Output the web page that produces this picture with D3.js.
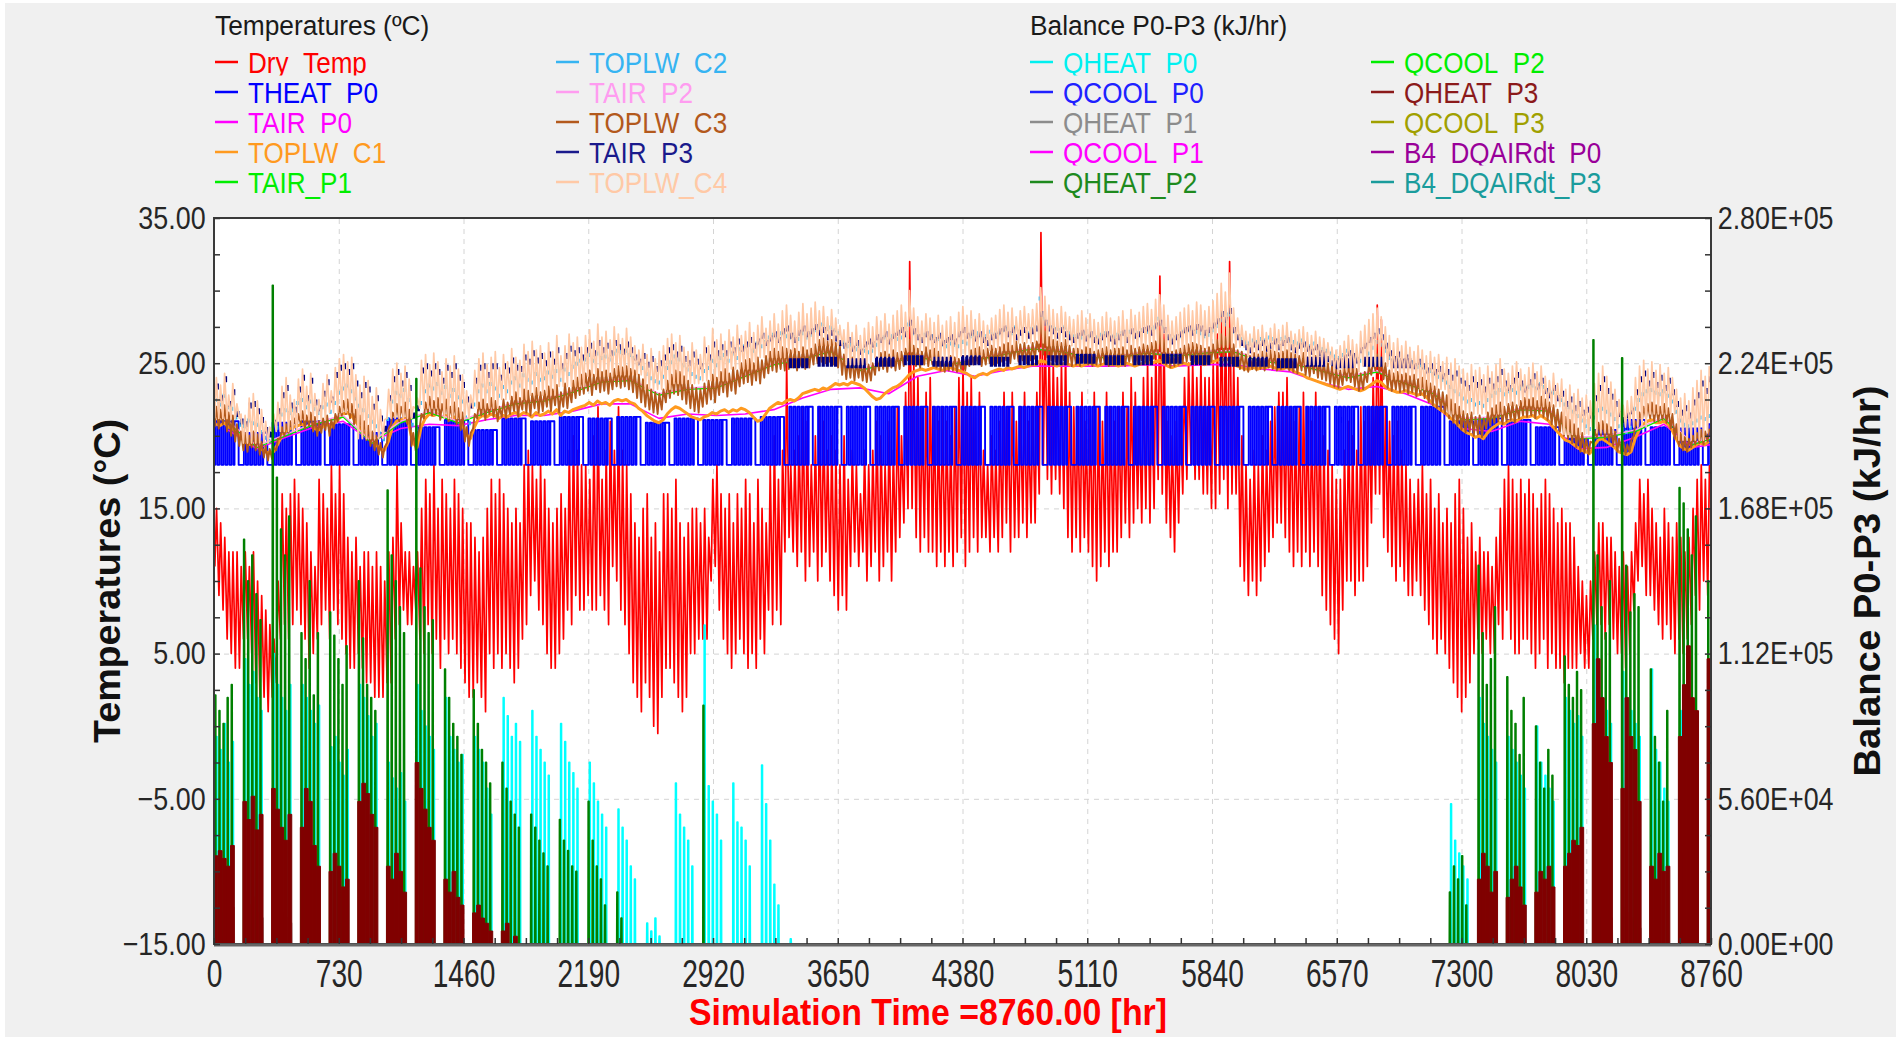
<!DOCTYPE html>
<html>
<head>
<meta charset="utf-8">
<script src="https://cdn.jsdelivr.net/npm/d3@7"></script>
<style>
html, body { margin: 0; padding: 0; background: #fff; }
svg { display: block; font-family: "Liberation Sans", Arial, sans-serif; }
</style>
</head>
<body>
<svg id="chart" width="1903" height="1037"></svg>
<script>
// ---- data (one value per day unless noted) ----

// Dry_Temp daily max / min (deg C)
const DRY_MAX = [15,14,13,12,12,12,11,12,11,12,
10,9,8,7,6,10,16,15,16,17,
16,15,14,12,11,17,16,15,18,16,
18,16,13,12,13,11,12,12,11,12,
11,10,12,13,18,14,12,12,11,12,
15,17,16,18,15,17,16,15,17,16,
15,14,14,13,12,13,15,17,16,17,
16,15,14,15,14,18,19,18,17,18,
17,15,14,15,16,15,19,20,19,18,
18,17,20,22,17,19,21,19,22,19,
18,16,14,13,15,16,13,14,12,16,
16,15,17,14,13,14,15,15,14,15,
13,17,18,16,15,16,14,16,15,17,
16,14,17,15,14,18,20,17,19,25,
18,19,20,22,21,18,20,22,21,19,
20,19,18,20,17,19,18,16,19,18,
19,21,20,18,21,19,22,20,23,32,
25,24,22,23,24,22,21,22,21,20,
22,24,25,23,24,22,23,19,18,20,
19,21,23,22,23,21,22,23,21,22,
23,34,28,26,25,24,25,26,23,22,
22,23,21,22,23,22,21,23,22,21,
22,23,22,24,23,22,24,25,24,26,
31,27,21,20,21,22,24,25,25,24,
25,24,24,25,27,29,28,32,25,24,
20,18,17,19,18,20,19,21,22,23,
23,24,22,21,22,23,22,21,23,22,
20,19,18,17,17,19,21,20,19,22,
21,22,24,29,28,22,21,20,21,19,
18,17,16,17,18,16,17,15,16,14,
15,14,16,17,15,13,14,12,13,12,
12,11,13,15,17,18,17,16,17,16,
17,16,15,16,17,16,15,14,15,14,
14,13,11,10,9,10,12,14,14,13,
13,12,11,12,11,12,14,17,16,17,
15,14,13,15,14,13,14,13,12,13,
15,17,18,17,18];
const DRY_MIN = [11,9,8,6,5,4,4,6,6,5,
3,2,2,1,2,3,6,7,6,7,
8,7,6,4,5,6,7,8,6,8,
7,6,5,4,4,5,4,3,3,2,
2,2,3,3,6,7,8,7,7,8,
6,5,7,5,6,4,6,5,6,5,
4,3,2,2,3,2,1,5,4,5,
4,5,4,3,4,6,7,9,10,8,
7,5,4,4,5,6,8,7,9,8,
8,9,8,8,9,8,7,11,10,8,
7,5,3,2,1,3,2,0,-0.5,2,
4,4,3,2,1,2,5,5,6,6,
6,10,11,8,6,5,4,5,6,5,
4,5,4,6,5,8,7,8,7,12,
13,12,11,12,10,11,12,10,11,12,
10,9,8,9,8,11,12,11,12,10,
11,12,10,11,12,10,12,13,14,15,
15,13,12,13,12,12,11,12,11,12,
11,12,13,11,12,13,12,13,13,12,
13,12,13,14,12,13,13,14,13,14,
14,16,18,17,16,17,16,15,13,12,
13,12,13,12,11,10,11,12,11,12,
12,13,14,13,14,15,14,15,14,15,
17,16,14,13,12,14,16,17,18,17,
17,16,16,15,15,16,17,15,16,16,
11,10,9,10,9,10,11,12,13,14,
14,13,12,11,12,11,12,11,12,11,
9,8,7,6,5,8,10,10,9,10,
10,11,14,16,16,13,12,11,10,11,
10,9,9,10,9,8,7,6,5,6,
5,4,3,2,1,2,3,5,6,5,
6,5,5,7,6,8,6,5,5,6,
6,5,4,5,6,4,5,4,4,3,
4,4,4,5,4,4,6,7,7,6,
7,6,5,5,4,5,8,10,11,9,
9,8,7,6,7,6,5,6,5,6,
7,9,8,10,9];

// TOPLW_C3 daily max / min
const C3_HI = [22.0,21.8,22.1,21.6,21.4,20.8,20.3,20.2,20.0,20.3,
20.1,19.6,19.3,19.1,19.2,19.8,20.6,20.8,21.0,21.2,
21.5,21.7,21.4,21.6,21.3,21.0,21.2,21.4,21.1,21.5,
22.0,22.4,22.5,22.2,21.8,21.4,21.0,20.7,20.3,20.0,
19.5,19.2,20.5,21.6,22.2,22.0,22.3,21.8,20.2,19.8,
21.5,22.3,22.7,22.4,22.6,22.2,22.5,22.0,22.3,21.9,
21.6,20.6,20.2,21.5,22.3,22.5,22.2,22.6,22.4,22.0,
22.5,22.3,22.7,23.0,22.6,23.2,23.1,22.9,23.3,23.0,
23.1,23.4,23.2,23.5,23.0,23.6,23.3,23.8,24.0,24.2,
24.3,24.5,24.2,24.6,24.4,24.5,24.3,24.6,24.8,24.7,
24.8,24.6,24.5,24.2,23.9,23.5,23.2,23.0,22.9,23.2,
23.8,24.2,24.5,24.4,24.1,23.8,23.5,23.3,23.2,23.6,
23.8,24.2,24.0,24.4,24.6,24.3,24.7,24.5,25.0,25.2,
25.3,25.0,25.4,25.2,25.5,25.8,26.0,25.8,26.1,26.0,
25.9,26.0,25.8,26.1,25.9,26.0,26.3,26.6,26.7,26.5,
26.6,26.4,26.2,25.6,25.3,25.4,25.1,25.3,25.0,24.9,
25.0,25.4,25.7,25.8,25.6,25.9,25.7,25.8,26.0,26.6,
26.2,26.0,25.8,26.1,25.9,26.0,25.8,25.4,25.3,25.5,
25.4,25.3,25.5,25.4,25.9,26.0,26.1,25.9,26.0,26.2,
26.0,26.1,26.3,26.4,26.2,26.5,26.3,26.4,26.2,26.4,
26.5,28.6,27.2,26.8,26.6,26.5,26.4,26.6,26.2,26.0,
26.0,25.9,26.1,26.0,25.8,25.9,26.0,26.1,25.9,26.0,
26.0,26.1,25.9,26.2,26.0,26.1,26.3,26.2,26.4,26.5,
27.2,26.6,26.0,25.8,25.9,26.0,26.2,26.3,26.4,26.3,
26.2,26.0,26.1,26.3,26.6,27.0,26.8,27.4,26.3,25.9,
25.8,25.6,25.5,25.7,25.6,25.8,25.7,25.9,25.8,25.7,
25.8,25.9,25.7,25.6,25.5,25.7,25.4,25.3,25.5,25.2,
25.1,25.0,24.8,24.6,24.5,24.7,25.0,24.9,24.6,24.3,
24.4,24.8,25.2,25.6,25.4,25.0,24.5,24.3,24.4,24.2,
24.3,24.1,24.2,23.9,24.0,23.8,23.6,23.4,23.2,23.0,
22.8,22.5,22.2,22.0,21.7,21.5,21.6,21.3,21.4,21.2,
21.6,21.9,22.1,22.3,22.0,22.2,22.3,22.1,22.4,22.6,
22.5,22.6,22.4,22.7,22.5,22.3,22.1,21.8,21.6,21.3,
21.1,20.8,20.5,20.2,19.8,19.6,20.4,20.9,21.0,20.8,
20.6,20.3,19.8,19.6,19.4,19.7,21.0,21.6,22.0,22.2,
22.3,22.1,22.0,22.2,21.9,21.5,20.8,20.2,19.9,19.8,
20.0,20.2,20.4,20.3,20.5];
const C3_LO = [20.6,20.5,20.8,20.3,20.0,19.6,19.3,19.0,18.9,19.2,
19.0,18.7,18.5,18.3,18.4,19.0,19.8,20.0,20.2,20.4,
20.6,20.8,20.5,20.7,20.3,20.0,20.2,20.4,20.0,20.5,
21.0,21.4,21.5,21.2,20.8,20.4,20.0,19.7,19.3,19.0,
18.7,18.5,19.5,20.8,21.2,21.0,21.3,20.8,19.3,19.0,
20.6,21.2,21.6,21.4,21.5,21.1,21.4,21.0,21.2,20.8,
20.4,19.6,19.3,20.5,21.2,21.4,21.1,21.5,21.3,21.0,
21.3,21.2,21.5,21.7,21.3,21.8,21.6,21.4,21.9,21.6,
21.7,22.0,21.7,22.1,21.6,22.0,21.9,22.3,22.6,22.8,
22.9,23.1,22.8,23.2,23.0,23.1,22.9,23.2,23.4,23.3,
23.4,23.2,23.0,22.6,22.3,22.0,21.8,21.6,21.5,21.8,
22.3,22.6,22.9,22.8,22.5,22.2,21.9,21.7,21.6,22.0,
22.2,22.5,22.3,22.8,23.0,22.7,23.1,22.9,23.4,23.6,
23.7,23.5,23.8,23.6,24.0,24.3,24.5,24.4,24.6,24.5,
24.6,24.7,24.5,24.8,24.6,24.7,24.9,25.0,25.1,25.0,
25.1,24.9,24.7,24.2,23.9,24.0,23.8,24.0,23.8,23.7,
23.8,24.2,24.5,24.6,24.4,24.7,24.5,24.6,24.8,25.2,
25.0,24.8,24.7,24.9,24.8,24.9,24.7,24.5,24.4,24.5,
24.5,24.4,24.6,24.5,24.8,24.9,25.0,24.8,24.9,25.0,
24.9,25.0,25.1,25.2,25.0,25.3,25.1,25.2,25.0,25.2,
25.3,25.8,25.6,25.4,25.2,25.1,25.0,25.2,24.9,24.8,
24.9,24.8,25.0,24.9,24.8,24.9,24.9,25.0,24.8,24.9,
24.9,25.0,24.8,25.1,24.9,25.0,25.2,25.1,25.2,25.3,
25.6,25.2,24.9,24.7,24.8,24.9,25.0,25.1,25.2,25.1,
25.0,24.9,25.0,25.1,25.3,25.6,25.5,25.8,25.0,24.8,
24.6,24.5,24.4,24.6,24.5,24.6,24.5,24.7,24.6,24.5,
24.6,24.7,24.5,24.4,24.3,24.5,24.2,24.1,24.3,24.0,
23.9,23.8,23.6,23.4,23.3,23.5,23.8,23.7,23.4,23.1,
23.2,23.7,24.2,24.5,24.3,23.9,23.3,23.1,23.2,23.0,
23.1,22.9,23.0,22.7,22.8,22.6,22.3,22.1,21.9,21.7,
21.5,21.2,20.9,20.7,20.4,20.2,20.3,20.0,20.1,19.9,
20.5,20.7,20.9,21.0,20.8,21.0,21.1,20.9,21.2,21.4,
21.3,21.4,21.2,21.5,21.3,21.1,20.8,20.5,20.3,20.0,
19.8,19.5,19.2,18.9,18.8,18.7,19.5,19.9,20.0,19.8,
19.6,19.3,18.9,18.8,18.7,18.9,20.0,20.6,21.0,21.2,
21.2,21.0,21.0,21.1,20.9,20.5,19.8,19.3,19.0,18.9,
19.2,19.4,19.5,19.4,19.6];

// TOPLW_C4 daily peak
const C4_HI = [24.0,23.5,24.3,22.8,23.6,22.2,21.5,21.4,22.6,22.9,
22.4,21.8,21.0,20.6,21.5,22.3,23.4,24.0,22.8,22.5,
23.9,24.6,23.4,24.3,22.9,22.5,23.6,24.2,23.1,24.7,
25.3,25.6,25.1,25.4,24.2,23.5,24.1,23.8,22.7,23.3,
21.8,21.1,23.2,24.6,25.0,24.3,24.8,23.9,22.0,22.6,
25.2,25.6,24.9,25.7,25.1,24.4,25.3,24.8,25.5,24.6,
24.2,23.1,22.8,24.5,25.3,25.7,24.9,25.4,25.8,24.7,
25.6,25.1,26.0,25.4,25.2,26.3,25.8,26.5,25.9,26.2,
25.7,26.4,25.8,26.9,25.5,26.2,27.0,26.4,26.8,26.1,
26.9,27.3,26.5,27.7,26.8,27.2,26.6,27.5,27.0,26.7,
27.4,26.8,26.2,25.9,26.3,25.6,26.0,25.3,25.8,26.2,
26.7,27.0,26.4,26.9,26.1,25.8,26.4,25.9,25.6,26.8,
26.2,27.4,26.6,27.0,26.5,27.3,26.8,27.6,26.9,27.2,
27.8,27.1,27.6,28.2,27.4,27.9,28.4,27.7,28.6,29.0,
28.3,27.9,28.5,29.1,28.4,28.8,29.2,28.6,28.9,28.2,
28.7,28.1,27.6,27.3,27.8,27.1,27.6,26.9,27.4,27.8,
27.5,28.2,27.9,28.4,27.7,28.3,28.6,29.0,28.5,30.0,
28.8,28.2,27.9,28.4,28.1,27.8,28.3,27.6,27.9,28.2,
27.8,28.5,28.9,28.3,28.6,28.0,28.4,27.9,27.6,28.1,
28.3,28.7,29.0,28.5,28.8,28.2,28.6,28.9,28.4,28.7,
29.1,30.2,29.6,29.0,28.7,28.4,28.9,28.5,28.2,28.0,
28.3,28.6,28.1,28.4,28.0,27.8,28.2,28.5,28.1,27.9,
28.2,28.6,28.0,28.7,28.3,28.5,28.9,29.1,28.7,29.4,
29.7,29.0,28.3,27.9,28.2,28.5,28.8,29.0,28.6,29.2,
29.0,28.6,28.9,29.3,29.8,30.5,29.9,31.2,28.8,28.1,
27.6,27.2,27.0,27.5,27.3,27.6,27.1,27.4,27.7,27.3,
27.6,27.8,27.2,27.0,27.3,27.5,27.1,26.9,27.2,26.8,
26.7,26.4,26.1,25.9,26.2,26.5,26.9,26.6,26.3,27.2,
27.6,28.0,28.4,28.8,28.2,27.5,26.9,26.4,26.7,26.2,
26.5,26.1,25.8,26.2,25.9,25.5,25.8,25.4,25.6,25.1,
25.4,25.0,25.3,24.8,24.6,24.3,24.9,24.5,24.7,24.2,
24.8,24.4,24.9,25.3,24.6,24.3,24.8,25.1,24.6,24.2,
24.7,25.0,24.4,24.8,24.1,23.8,24.3,23.6,23.9,23.2,
23.5,22.9,23.2,22.6,22.8,22.4,23.6,24.3,24.8,24.1,
23.7,23.2,22.5,22.1,22.4,22.7,24.0,24.8,25.2,24.6,
25.1,24.5,24.9,24.3,24.7,24.0,23.2,22.6,22.9,22.4,
23.3,23.8,24.5,24.1,24.8];

// TOPLW_C1 daily value
const C1 = [20.8,20.7,20.9,20.6,20.5,20.2,19.9,19.6,19.4,19.5,
19.3,19.1,18.9,18.8,18.9,19.4,20.0,20.3,20.5,20.6,
20.7,20.8,20.6,20.8,20.5,20.4,20.6,20.8,20.6,20.9,
21.2,21.5,21.6,21.4,21.0,20.6,20.2,19.9,19.6,19.4,
19.1,19.0,19.6,20.6,21.0,21.1,21.2,20.8,19.5,19.2,
20.6,21.2,21.5,21.4,21.5,21.3,21.4,21.1,21.3,21.0,
20.8,20.1,19.8,20.6,21.2,21.4,21.3,21.5,21.4,21.2,
21.4,21.3,21.5,21.6,21.4,21.6,21.5,21.3,21.6,21.4,
21.5,21.7,21.5,21.8,21.4,21.7,21.6,21.8,21.9,22.0,
22.1,22.3,22.1,22.4,22.2,22.3,22.1,22.4,22.5,22.4,
22.5,22.3,22.2,21.9,21.7,21.4,21.2,21.0,20.9,21.1,
21.5,21.8,22.0,21.9,21.7,21.5,21.3,21.2,21.1,21.3,
21.4,21.6,21.5,21.7,21.8,21.6,21.8,21.7,21.9,21.8,
21.6,21.3,21.0,21.1,21.5,21.9,22.1,22.3,22.2,22.4,
22.5,22.4,22.6,22.9,23.0,23.1,23.2,23.1,23.3,23.2,
23.4,23.6,23.5,23.6,23.5,23.7,23.6,23.5,23.3,23.0,
22.7,22.5,22.6,22.9,23.1,23.3,23.4,23.6,23.9,24.2,
24.4,24.5,24.6,24.5,24.6,24.7,24.6,24.5,24.6,24.7,
24.6,24.5,24.4,24.3,24.1,24.0,24.2,24.3,24.2,24.4,
24.5,24.6,24.5,24.7,24.6,24.7,24.8,24.7,24.8,24.9,
24.9,25.2,25.1,25.0,24.9,24.8,24.9,25.0,24.9,24.8,
24.9,24.8,24.9,25.0,24.9,24.8,24.9,25.0,24.9,24.9,
24.8,24.9,25.0,24.9,24.8,24.9,25.0,25.1,25.0,25.1,
25.2,25.0,24.8,24.7,24.8,24.9,25.0,24.9,25.0,25.1,
25.0,24.9,25.0,25.1,25.2,25.3,25.2,25.3,24.9,24.8,
24.7,24.6,24.6,24.7,24.6,24.7,24.7,24.8,24.7,24.6,
24.6,24.7,24.6,24.4,24.3,24.2,24.0,23.9,23.8,23.7,
23.6,23.5,23.4,23.3,23.2,23.3,23.4,23.3,23.2,23.1,
23.2,23.4,23.6,23.8,23.7,23.4,23.2,23.1,23.0,23.0,
23.1,23.0,22.9,22.8,22.9,22.7,22.4,22.1,21.9,21.7,
21.5,21.2,21.0,20.7,20.4,20.2,20.1,19.9,20.0,19.8,
20.2,20.5,20.7,20.9,20.8,21.0,21.1,21.0,21.2,21.3,
21.3,21.4,21.2,21.4,21.2,21.0,20.6,20.3,20.0,19.7,
19.6,19.4,19.2,19.0,18.9,18.8,19.3,19.7,19.8,19.6,
19.4,19.2,18.9,18.8,18.7,18.9,19.8,20.4,20.8,21.0,
21.1,20.9,20.9,21.0,20.8,20.4,19.8,19.3,19.1,19.0,
19.2,19.4,19.5,19.4,19.6];

// TOPLW_C2 daily dots
const C2 = [22.6,22.3,22.9,22.1,22.0,21.4,20.9,20.8,21.2,21.0,
20.9,20.4,20.0,19.8,20.1,20.7,21.6,21.9,21.7,21.9,
22.4,22.6,22.1,22.5,22.0,21.7,22.1,22.3,21.8,22.4,
23.1,23.4,23.6,23.2,22.7,22.2,21.9,21.5,21.1,20.8,
20.3,19.9,21.3,22.5,23.1,22.9,23.3,22.6,20.9,20.6,
22.4,23.2,23.6,23.4,23.7,23.1,23.5,22.9,23.3,22.8,
22.5,21.4,21.0,22.3,23.2,23.6,23.2,23.7,23.4,22.9,
23.5,23.2,23.8,24.1,23.6,24.3,24.0,23.8,24.4,24.0,
24.1,24.5,24.2,24.6,24.0,24.7,24.4,24.9,25.1,25.3,
25.4,25.7,25.3,25.8,25.5,25.6,25.4,25.8,26.0,25.9,
26.0,25.7,25.5,25.1,24.8,24.4,24.1,23.9,23.8,24.2,
24.8,25.2,25.6,25.4,25.0,24.7,24.4,24.2,24.1,24.6,
24.8,25.3,25.0,25.5,25.7,25.3,25.8,25.5,26.1,26.3,
26.4,26.0,26.5,26.3,26.6,26.9,27.1,26.9,27.2,27.0,
26.9,27.1,26.8,27.2,26.9,27.1,27.4,27.6,27.8,27.5,
27.6,27.4,27.2,26.6,26.3,26.4,26.1,26.3,26.0,25.9,
26.0,26.4,26.7,26.9,26.6,27.0,26.8,26.9,27.1,27.8,
27.2,27.0,26.8,27.1,26.9,27.0,26.8,26.4,26.3,26.5,
26.4,26.3,26.6,26.5,27.0,27.1,27.2,26.9,27.0,27.3,
27.1,27.2,27.4,27.5,27.2,27.6,27.3,27.5,27.2,27.5,
27.6,29.6,28.2,27.8,27.6,27.5,27.4,27.6,27.2,27.0,
27.0,26.9,27.2,27.0,26.8,26.9,27.1,27.2,26.9,27.0,
27.1,27.2,26.9,27.3,27.0,27.2,27.4,27.3,27.5,27.6,
28.2,27.6,27.0,26.8,26.9,27.0,27.3,27.4,27.5,27.3,
27.2,27.0,27.1,27.4,27.7,28.1,27.8,28.5,27.3,26.9,
26.8,26.6,26.5,26.7,26.6,26.8,26.7,26.9,26.8,26.7,
26.8,26.9,26.7,26.6,26.5,26.7,26.4,26.3,26.5,26.2,
26.1,26.0,25.8,25.6,25.5,25.7,26.0,25.9,25.6,25.3,
25.4,25.8,26.2,26.6,26.4,26.0,25.5,25.3,25.4,25.2,
25.3,25.1,25.2,24.9,25.0,24.8,24.6,24.4,24.2,24.0,
23.8,23.5,23.2,23.0,22.7,22.5,22.6,22.3,22.4,22.2,
22.6,22.9,23.1,23.3,23.0,23.2,23.3,23.1,23.4,23.6,
23.5,23.6,23.4,23.7,23.5,23.3,23.1,22.8,22.6,22.3,
22.1,21.8,21.5,21.2,20.8,20.6,21.4,21.9,22.0,21.8,
21.6,21.3,20.8,20.6,20.4,20.7,22.0,22.6,23.0,23.2,
23.3,23.1,23.0,23.2,22.9,22.5,21.8,21.2,20.9,20.8,
21.0,21.2,21.4,21.3,21.5];

// TAIR_P3 daily peak marks
const P3_HI = [23.6,22.8,24.1,22.4,23.2,21.7,21.2,21.0,22.3,22.4,
21.9,21.3,20.6,20.3,21.1,21.9,23.0,23.5,22.3,22.0,
23.4,24.2,22.8,24.0,22.5,22.1,23.1,23.9,22.7,24.4,
24.9,25.0,24.6,25.0,23.8,23.0,23.7,23.4,22.2,22.8,
21.4,20.7,22.8,24.1,24.6,23.8,24.4,23.5,21.6,22.1,
24.7,25.0,24.5,25.0,24.6,24.0,24.9,24.4,25.0,24.2,
23.7,22.7,22.3,24.0,24.9,25.0,24.4,25.0,25.0,24.2,
25.0,24.7,25.4,24.9,24.8,25.6,25.3,25.9,25.4,25.7,
25.2,25.8,25.3,26.1,25.0,25.7,26.2,25.9,26.1,25.6,
26.1,26.4,25.9,26.6,26.1,26.4,25.9,26.6,26.3,26.0,
26.5,26.1,25.6,25.3,25.7,25.1,25.5,24.8,25.2,25.6,
26.1,26.3,25.8,26.2,25.5,25.2,25.8,25.3,25.0,26.1,
25.6,26.5,25.9,26.3,25.9,26.5,26.1,26.7,26.2,26.5,
26.8,26.4,26.7,27.1,26.6,26.9,27.2,26.8,27.4,27.6,
27.1,26.8,27.3,27.6,27.2,27.4,27.7,27.3,27.5,27.0,
27.3,26.9,26.6,26.4,26.8,26.2,26.6,26.0,26.5,26.7,
26.5,27.0,26.8,27.2,26.7,27.1,27.3,27.5,27.2,28.0,
27.4,27.0,26.8,27.2,27.0,26.8,27.1,26.6,26.8,27.0,
26.7,27.2,27.5,27.1,27.3,26.9,27.2,26.8,26.6,27.0,
27.1,27.4,27.6,27.2,27.5,27.0,27.3,27.5,27.1,27.4,
27.6,28.6,28.0,27.6,27.4,27.1,27.5,27.2,27.0,26.8,
27.1,27.3,26.9,27.2,26.8,26.7,27.0,27.2,26.9,26.7,
27.0,27.3,26.8,27.4,27.1,27.2,27.5,27.6,27.3,27.8,
28.0,27.5,27.0,26.7,27.0,27.2,27.5,27.6,27.3,27.7,
27.6,27.3,27.5,27.8,28.1,28.6,28.2,28.8,27.5,27.0,
26.6,26.3,26.1,26.5,26.3,26.6,26.2,26.4,26.7,26.3,
26.6,26.8,26.3,26.1,26.4,26.5,26.2,26.0,26.3,25.9,
25.8,25.5,25.2,25.0,25.3,25.6,25.9,25.7,25.4,26.1,
26.4,26.8,27.1,27.4,27.0,26.4,25.9,25.5,25.8,25.3,
25.6,25.2,25.0,25.3,25.0,24.7,25.0,24.6,24.8,24.3,
24.6,24.2,24.5,24.0,23.8,23.5,24.1,23.7,23.9,23.4,
24.0,23.6,24.1,24.6,23.8,23.5,24.0,24.4,23.8,23.4,
23.9,24.3,23.6,24.0,23.3,23.0,23.5,22.8,23.1,22.4,
22.7,22.1,22.4,21.8,22.0,21.6,22.8,23.5,24.1,23.3,
22.9,22.4,21.7,21.3,21.6,21.9,23.2,24.1,24.5,23.8,
24.4,23.7,24.2,23.5,24.0,23.2,22.4,21.8,22.1,21.6,
22.5,23.0,23.8,23.3,24.1];

// weekly values (53 weeks)
const THEAT_HI = [21.0,20.2,20.9,21.0,20.8,20.2,21.2,20.6,21.1,20.4,
21.2,21.0,21.3,21.2,21.3,20.9,21.2,21.1,21.2,21.3,
22,22,22,22,22,22,22,22,22,22,22,22,22,22,22,22,22,22,22,22,22,22,22,
21.0,21.2,21.1,20.6,19.8,20.4,21.1,20.6,20.5,20.8];
const THEAT_LO = 18;
const THEAT_HOURS = [7, 19];
const WORK_WEEK = [1, 1, 1, 1, 1, 2, 0];   // 1 = occupied day, 2 = Saturday, 0 = Sunday
const C4_LO = [21.2,19.5,20.3,21.1,21.6,19.8,21.2,21.9,21.2,21.9,
22.5,22.8,23.4,24.1,24.2,23.2,23.6,23.8,24.6,25.4,
25.7,26.2,24.9,25.4,25.8,25.2,25.5,25.9,26.4,26.2,
25.7,25.7,26.0,25.8,26.0,26.1,25.4,25.4,24.9,24.4,
24.8,23.9,23.2,21.5,21.5,22.1,22.0,20.1,20.2,20.6,
21.5,19.7,20.2];
const P3_BAND = [null,null,null,null,null,null,null,null,null,null,
null,null,null,null,null,null,null,null,null,null,
25.0,25.1,25.0,25.1,25.2,25.1,25.2,25.1,25.2,25.2,
25.3,25.2,25.2,25.3,25.2,25.1,25.1,25.0,25.1,25.0,
25.1,25.0,null,null,null,null,null,null,null,null,
null,null,null];
const TAIR_P0 = [20.4,19.1,19.9,20.6,21.0,19.6,20.5,20.8,20.7,21.1,
21.4,21.4,21.7,22.2,22.2,21.2,21.5,21.4,21.5,21.8,
22.6,23.2,23.3,22.9,24.1,24.5,24.1,24.5,24.8,24.8,
24.8,24.8,24.9,24.8,24.9,24.9,24.6,24.4,23.7,23.2,
23.4,22.9,22.1,20.5,20.3,21.0,20.8,19.1,19.2,19.9,
20.8,19.2,19.5];
const TAIR_P1 = [20.9,19.2,20.0,20.8,21.3,19.5,20.9,21.6,20.9,21.6,
22.2,22.4,23.0,23.7,23.8,22.8,23.2,23.3,24.1,24.9,
25.3,25.8,24.5,25.0,25.5,24.9,25.2,25.6,26.0,25.8,
25.4,25.4,25.7,25.5,25.7,25.8,25.1,25.0,24.5,24.0,
24.4,23.6,22.9,21.1,21.2,21.8,21.7,19.8,19.9,20.3,
21.2,19.4,20.0];
const TAIR_P2 = [21.0,19.3,20.1,20.9,21.4,19.6,21.0,21.7,21.0,21.7,
22.3,22.5,23.1,23.8,23.9,22.9,23.3,23.4,24.2,25.0,
25.4,25.9,24.6,25.1,25.6,25.0,25.3,25.7,26.1,25.9,
25.5,25.5,25.8,25.6,25.8,25.9,25.2,25.1,24.6,24.1,
24.5,23.7,23.0,21.2,21.3,21.9,21.8,19.9,20.0,20.4,
21.3,19.5,20.1];

// heating loads, 10^3 kJ/hr, weekday values for each week that starts on the listed day
const HEAT_WEEKS = [0,7,14,21,28,35,42,49,56,63,70,77,84,91,98,105,112,119,126,133,140,
301,308,315,322,329,336,343,350,357,364];
const QHEAT_P0 = [[80,75,85,70,78],[110,100,105,95,90],[112,100,95,90,100],[100,95,90,85,92],[76,80,70,65,75],
[100,95,88,80,85],[70,64,60,66,55],[100,90,84,80,75],[95,80,75,70,73],[80,75,70,60,50],[95,88,80,85,78],
[90,80,75,70,65],[85,78,70,66,60],[70,62,55,50,45],[52,45,40,30,25],[8,5,10,3,0],[62,50,45,40,30],
[123,61,55,50,40],[62,47,45,40,30],[69,54,40,23,15],[2,0,0,0,0],
[54,40,35,30,25],[95,85,80,75,70],[80,75,70,65,60],[84,70,65,60,55],[95,90,85,88,80],[123,100,95,90,85],
[105,95,90,85,80],[106,75,70,60,55],[90,88,85,80,82],[80]];
const QHEAT_P2 = [[96,90,85,95,100],[156,140,150,135,125],[254,180,160,150,165],[120,110,140,96,120],[128,119,110,100,115],
[140,118,100,95,90],[175,150,140,130,120],[218,145,130,120,125],[106,95,85,80,73],[98,85,75,70,62],[70,60,55,50,45],
[50,45,40,35,30],[48,40,36,30,28],[55,40,30,25,15],[20,10,0,0,0],[0,0,0,0,0],[0,0,0,0,0],
[92,0,0,0,0],[0,0,0,0,0],[0,0,0,0,0],[0,0,0,0,0],
[20,30,25,34,15],[146,120,100,110,130],[103,90,85,73,95],[84,70,60,75,65],[111,100,95,105,98],[233,150,130,120,140],
[226,146,128,135,130],[106,80,70,55,90],[176,170,160,150,165],[140]];
const QHEAT_P3 = [[34,36,33,30,38],[55,48,57,44,50],[60,52,45,40,50],[45,60,55,38,30],[28,35,30,22,25],
[55,62,58,50,45],[30,25,35,28,20],[70,60,52,45,40],[25,20,28,18,15],[12,15,10,8,5],[5,8,0,3,0],
[0,0,0,0,0],[0,0,0,0,0],[0,0,0,0,0],[0,0,0,0,0],[0,0,0,0,0],[0,0,0,0,0],
[0,0,0,0,0],[0,0,0,0,0],[0,0,0,0,0],[0,0,0,0,0],
[0,0,0,0,0],[25,35,30,20,28],[18,25,30,22,15],[20,28,25,30,22],[30,35,40,38,45],[85,110,95,80,70],
[60,95,80,75,55],[30,25,35,28,30],[80,100,115,95,90],[110]];
const QHEAT_P1_WEEKS = [0, 7, 14, 336, 343];
const QHEAT_P1 = [[15,12,18,10,14],[20,15,18,12,10],[25,14,12,10,8],[12,10,8,15,10],[14,12,10,8,6]];
// series that stay at zero all year
const ZERO_HOURS = [0, 8760];
const QCOOL_P0 = [0, 0], QCOOL_P1 = [0, 0], QCOOL_P2 = [0, 0], QCOOL_P3 = [0, 0];
const B4_DQAIRDT_P0 = [0, 0], B4_DQAIRDT_P3 = [0, 0];

const X_TICKS = [0,730,1460,2190,2920,3650,4380,5110,5840,6570,7300,8030,8760];
const YL_TICKS = [-15,-5,5,15,25,35];
const YR_TICKS = [0,56,112,168,224,280];

// ---- drawing ----
const W = 1903, H = 1037;
const M = {left: 214, right: 1711, top: 218, bottom: 944};
const svg = d3.select('#chart');

svg.append('rect').attr('width', W).attr('height', H).attr('fill', '#fff');
svg.append('rect').attr('x', 5).attr('y', 3).attr('width', 1891).attr('height', H - 3).attr('fill', '#f0f0f0');

const x = d3.scaleLinear().domain([0, 8760]).range([M.left, M.right]);
const yT = d3.scaleLinear().domain([-15, 35]).range([M.bottom, M.top]);
const yQ = d3.scaleLinear().domain([0, 280]).range([M.bottom, M.top]);

svg.append('rect').attr('x', M.left).attr('y', M.top)
  .attr('width', M.right - M.left).attr('height', M.bottom - M.top).attr('fill', '#fff');

svg.append('clipPath').attr('id', 'plotClip').append('rect')
  .attr('x', M.left).attr('y', M.top).attr('width', M.right - M.left).attr('height', M.bottom - M.top);

// dashed grid
const gridStyle = g => g.call(s => s.select('.domain').remove())
  .selectAll('line').attr('stroke', '#d4d4d4').attr('stroke-dasharray', '5,5');
svg.append('g').attr('transform', `translate(${M.left},0)`)
  .call(d3.axisLeft(yT).tickValues([-5, 5, 15, 25]).tickSize(-(M.right - M.left)).tickFormat(''))
  .call(gridStyle);
svg.append('g').attr('transform', `translate(0,${M.bottom})`)
  .call(d3.axisBottom(x).tickValues(X_TICKS.slice(1, -1)).tickSize(-(M.bottom - M.top)).tickFormat(''))
  .call(gridStyle);

const plot = svg.append('g').attr('clip-path', 'url(#plotClip)');
const lineT = d3.line().x(p => x(p[0])).y(p => yT(p[1]));
const lineQ = d3.line().x(p => x(p[0])).y(p => yQ(p[1]));
function addLine(pts, gen, color, width) {
  plot.append('path').attr('d', gen(pts)).attr('fill', 'none')
    .attr('stroke', color).attr('stroke-width', width).attr('stroke-linejoin', 'round');
}
const days = d3.range(365);
const week = d => Math.floor(d / 7);
const weekPts = arr => arr.map((v, w) => [24 * (7 * w + 3.5), v]);

// left axis series, drawn in legend order (later ones on top)
addLine(days.flatMap(d => [[24 * d + 5, DRY_MIN[d]], [24 * d + 15, DRY_MAX[d]]]), lineT, '#ff0000', 1.7);

const theatPts = [];
days.forEach(d => {
  const h0 = 24 * d, hi = THEAT_HI[week(d)], kind = WORK_WEEK[d % 7];
  if (kind === 1) {
    theatPts.push([h0, THEAT_LO], [h0 + THEAT_HOURS[0], THEAT_LO], [h0 + THEAT_HOURS[0], hi],
      [h0 + THEAT_HOURS[1], hi], [h0 + THEAT_HOURS[1], THEAT_LO]);
  } else if (kind === 2) {
    theatPts.push([h0, THEAT_LO], [h0 + 0.3, hi], [h0 + 23.7, hi]);
  } else {
    theatPts.push([h0 + 0.3, THEAT_LO], [h0 + 24, THEAT_LO]);
  }
});
addLine(theatPts, lineT, '#0000ff', 1.9);

addLine(weekPts(TAIR_P0), lineT, '#ff00ff', 1.6);
addLine(days.map(d => [24 * d + 12, C1[d]]), lineT, '#ff9a1f', 3);
addLine(weekPts(TAIR_P1), lineT, '#00ee00', 1.5);
plot.append('path').attr('fill', 'none').attr('stroke', '#36b4f2').attr('stroke-width', 2.6)
  .attr('d', days.map(d => `M${x(24 * d + 9)},${yT(C2[d])}v4`).join(''));
addLine(weekPts(TAIR_P2), lineT, '#ff9cf0', 1.5);
addLine(days.flatMap(d => [[24 * d + 4, C3_LO[d]], [24 * d + 14, C3_HI[d]]]), lineT, '#b3591c', 1.9);

plot.append('path').attr('fill', 'none').attr('stroke', '#000080').attr('stroke-width', 3)
  .attr('d', days.map(d => `M${x(24 * d + 20)},${yT(P3_HI[d])}v6`).join(''));
let band = '';
days.forEach(d => {
  const b = P3_BAND[week(d)];
  if (b === null || WORK_WEEK[d % 7] !== 1) return;
  [8, 13, 18].forEach(h => { band += `M${x(24 * d + h)},${yT(b) - 5}v10`; });
});
plot.append('path').attr('fill', 'none').attr('stroke', '#000080').attr('stroke-width', 1.5).attr('d', band);

addLine(days.flatMap(d => [[24 * d + 4, C4_LO[week(d)]], [24 * d + 14, C4_HI[d]]]), lineT, '#ffc9a6', 1.7);

// right axis series, legend order
function pulses(weeks, vals, start) {
  const pts = [[0, 0]];
  weeks.forEach((s, i) => vals[i].forEach((v, j) => {
    const h = 24 * (s + j) + start;
    if (v > 0) pts.push([h, 0], [h + 1, v], [h + 5, v], [h + 6, 0]);
  }));
  pts.push([8760, 0]);
  return pts;
}
const zeroLine = s => s.map((v, k) => [ZERO_HOURS[k], v]);
addLine(pulses(HEAT_WEEKS, QHEAT_P0, 12), lineQ, '#00ffff', 1.8);
addLine(zeroLine(QCOOL_P0), lineQ, '#0000ff', 1.5);
addLine(pulses(QHEAT_P1_WEEKS, QHEAT_P1, 16), lineQ, '#8c8c8c', 1.8);
addLine(zeroLine(QCOOL_P1), lineQ, '#ff00ff', 1.5);
addLine(pulses(HEAT_WEEKS, QHEAT_P2, 5), lineQ, '#008000', 1.8);
addLine(zeroLine(QCOOL_P2), lineQ, '#00ff00', 1.5);
const blockPts = [[0, 0]];
HEAT_WEEKS.forEach((s, i) => QHEAT_P3[i].forEach((v, j) => {
  const h = 24 * (s + j);
  if (v > 0) blockPts.push([h + 1, 0], [h + 1, v], [h + 23, v], [h + 23, 0]);
}));
blockPts.push([8760, 0]);
plot.append('path').attr('d', d3.area().x(p => x(p[0])).y0(yQ(0)).y1(p => yQ(p[1]))(blockPts))
  .attr('fill', '#800000').attr('stroke', '#800000').attr('stroke-width', 1);
addLine(zeroLine(QCOOL_P3), lineQ, '#999900', 1.5);
addLine(zeroLine(B4_DQAIRDT_P0), lineQ, '#990099', 1.5);
addLine(zeroLine(B4_DQAIRDT_P3), lineQ, '#009c9c', 1.5);

// ---- frame, ticks, labels ----
svg.append('rect').attr('x', M.left).attr('y', M.top).attr('width', M.right - M.left)
  .attr('height', M.bottom - M.top).attr('fill', 'none').attr('stroke', '#3a3a3a').attr('stroke-width', 2);
svg.append('line').attr('x1', M.left).attr('x2', M.right).attr('y1', M.bottom + 1).attr('y2', M.bottom + 1)
  .attr('stroke', '#666').attr('stroke-width', 3);

const minor = g => g.call(s => s.select('.domain').remove()).selectAll('line').attr('stroke', '#333').attr('stroke-width', 1.5);
svg.append('g').attr('transform', `translate(${M.left},0)`)
  .call(d3.axisLeft(yT).tickValues(d3.range(-15, 35.01, 2.5)).tickSize(-6).tickFormat('')).call(minor);
svg.append('g').attr('transform', `translate(${M.right},0)`)
  .call(d3.axisRight(yQ).tickValues(d3.range(0, 280.1, 14)).tickSize(-6).tickFormat('')).call(minor);
svg.append('g').attr('transform', `translate(0,${M.bottom})`)
  .call(d3.axisBottom(x).tickValues(d3.range(0, 8760.1, 182.5)).tickSize(-6).tickFormat('')).call(minor);

function fmtE(v) {
  const [m, e] = d3.format('.2e')(v * 1000).split('e');
  const n = Math.abs(+e);
  return m + 'E' + (e[0] === '-' ? '-' : '+') + (n < 10 ? '0' + n : n);
}
const labelStyle = (g, size, sx) => g.call(s => s.select('.domain').remove())
  .call(s => s.selectAll('line').remove())
  .selectAll('text').attr('font-size', size).attr('fill', '#262626')
  .attr('font-family', '"Liberation Sans", Arial, sans-serif')
  .attr('transform', `scale(${sx},1)`);
svg.append('g').attr('transform', `translate(${M.left},0)`)
  .call(d3.axisLeft(yT).tickValues(YL_TICKS).tickFormat(d3.format('.2f')).tickSize(0).tickPadding(10))
  .call(g => labelStyle(g, 32, 0.84));
svg.append('g').attr('transform', `translate(${M.right},0)`)
  .call(d3.axisRight(yQ).tickValues(YR_TICKS).tickFormat(fmtE).tickSize(0).tickPadding(8))
  .call(g => labelStyle(g, 32, 0.84));
svg.append('g').attr('transform', `translate(0,${M.bottom})`)
  .call(d3.axisBottom(x).tickValues(X_TICKS).tickFormat(d3.format('d')).tickSize(0).tickPadding(16))
  .call(g => labelStyle(g, 38, 0.74));

// axis titles
svg.append('text').attr('transform', 'translate(120,581) rotate(-90)').attr('text-anchor', 'middle')
  .attr('font-size', 36).attr('font-weight', 'bold').attr('fill', '#111')
  .attr('textLength', 324).attr('lengthAdjust', 'spacingAndGlyphs').text('Temperatures (°C)');
svg.append('text').attr('transform', 'translate(1880,581) rotate(-90)').attr('text-anchor', 'middle')
  .attr('font-size', 36).attr('font-weight', 'bold').attr('fill', '#111')
  .attr('textLength', 391).attr('lengthAdjust', 'spacingAndGlyphs').text('Balance P0-P3 (kJ/hr)');
svg.append('text').attr('x', 928).attr('y', 1025).attr('text-anchor', 'middle')
  .attr('font-size', 37).attr('font-weight', 'bold').attr('fill', '#ff0000')
  .attr('textLength', 478).attr('lengthAdjust', 'spacingAndGlyphs').text('Simulation Time =8760.00 [hr]');

// legend
const LEGEND = [
  {x: 215, title: 'Temperatures (ºC)', names: ['Dry_Temp', 'THEAT_P0', 'TAIR_P0', 'TOPLW_C1', 'TAIR_P1'],
   colors: ['#ff0000', '#0000ff', '#ff00ff', '#ff9a1f', '#00ee00']},
  {x: 556, names: ['TOPLW_C2', 'TAIR_P2', 'TOPLW_C3', 'TAIR_P3', 'TOPLW_C4'],
   colors: ['#36b4f2', '#ff9cf0', '#b3591c', '#1a1a8c', '#ffc9a6']},
  {x: 1030, title: 'Balance P0-P3 (kJ/hr)', names: ['QHEAT_P0', 'QCOOL_P0', 'QHEAT_P1', 'QCOOL_P1', 'QHEAT_P2'],
   colors: ['#00f0f0', '#2020ff', '#8c8c8c', '#ff00ff', '#1e8a1e']},
  {x: 1371, names: ['QCOOL_P2', 'QHEAT_P3', 'QCOOL_P3', 'B4_DQAIRdt_P0', 'B4_DQAIRdt_P3'],
   colors: ['#00ee00', '#8b1a1a', '#a0a000', '#990099', '#1a9c9c']}
];
const lg = svg.append('g');
LEGEND.forEach(col => {
  if (col.title) {
    lg.append('text').attr('transform', `translate(${col.x},35) scale(0.94,1)`)
      .attr('font-size', 28).attr('fill', '#1a1a1a').text(col.title);
  }
  col.names.forEach((n, i) => {
    const base = 73 + i * 30;
    // each row's background hides the underscore/descenders of the row above, as in the original
    lg.append('rect').attr('x', col.x - 3).attr('y', base - 27.5).attr('width', 330).attr('height', 28).attr('fill', '#f0f0f0');
    lg.append('line').attr('x1', col.x).attr('x2', col.x + 23).attr('y1', base - 11).attr('y2', base - 11)
      .attr('stroke', col.colors[i]).attr('stroke-width', 2.5);
    lg.append('text').attr('transform', `translate(${col.x + 33},${base}) scale(0.9,1)`)
      .attr('font-size', 29).attr('fill', col.colors[i]).text(n);
  });
});
</script>
</body>
</html>
